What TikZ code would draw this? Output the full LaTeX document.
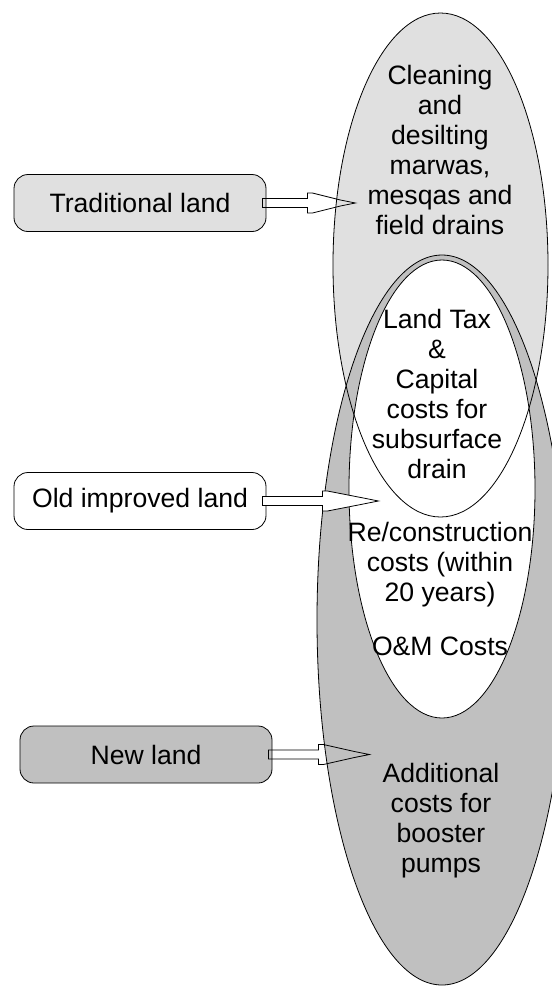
\documentclass[tikz,border=0pt]{standalone}
\usepackage{fontspec}
\setmainfont{Liberation Sans}
\usepackage{tikz}
\usetikzlibrary{calc}

\definecolor{lightgrey}{RGB}{224,224,224}
\definecolor{midgrey}{RGB}{192,192,192}

% hollow block arrow: node, shaft length, slope length
\newcommand{\costarrow}[4][]{%
  \draw[arrowline, #1] ([xshift=-2pt]#2.east) ++(0,-4.5) -- ++(#3,0) -- ++(0,-5.5) -- ++(5,0)
    -- ++(#4,7) -- ++(15,3) -- ++(-15,3) -- ++(-#4,7) -- ++(-5,0) -- ++(0,-5.5) -- ++(-#3,0) -- cycle;
}

\begin{document}
\begin{tikzpicture}[
      x=0.5pt, y=-0.5pt,
      every node/.style={font=\fontsize{13.3}{15}\selectfont},
      landbox/.style={draw=black, thin, rounded corners=7pt, minimum width=126pt, minimum height=28.5pt},
      costtext/.style={align=center, inner sep=0pt},
      arrowline/.style={draw=black, thin},
      ]

      \useasboundingbox (0,0) rectangle (552,987);

      % the three cost areas
      \fill[lightgrey] (440.5,265) ellipse (107.5 and 252);
      \fill[midgrey] (442,620) ellipse (125 and 365);
      \fill[white] (442,489) ellipse (93 and 229);
      \draw[thin] (440.5,265) ellipse (107.5 and 252);
      \draw[thin] (442,620) ellipse (125 and 365);
      \draw[thin] (442,489) ellipse (93 and 229);

      \node[costtext] (clean) at (440,150) {Cleaning\\and\\desilting\\marwas,\\mesqas and\\field drains};
      \node[costtext] (tax) at (437,394) {Land Tax\\\&\\Capital\\costs for\\subsurface\\drain};
      \node[costtext] (recon) at (440,589) {Re/construction\\costs (within\\20 years)\\[12pt]O\&M Costs};
      \node[costtext] (boost) at (441,821) {Additional\\costs for\\booster\\pumps};

      % land types
      \node[landbox, fill=lightgrey] (trad) at (140,203) {Traditional land};
      \node[landbox, fill=white] (old) at (140,501) {Old improved land};
      \node[landbox, fill=midgrey] (new) at (146,754.5) {New land};

      \costarrow{trad}{45}{28}
      \costarrow[fill=white]{old}{60}{36}
      \costarrow{new}{50}{31}

    \end{tikzpicture}
\end{document}
